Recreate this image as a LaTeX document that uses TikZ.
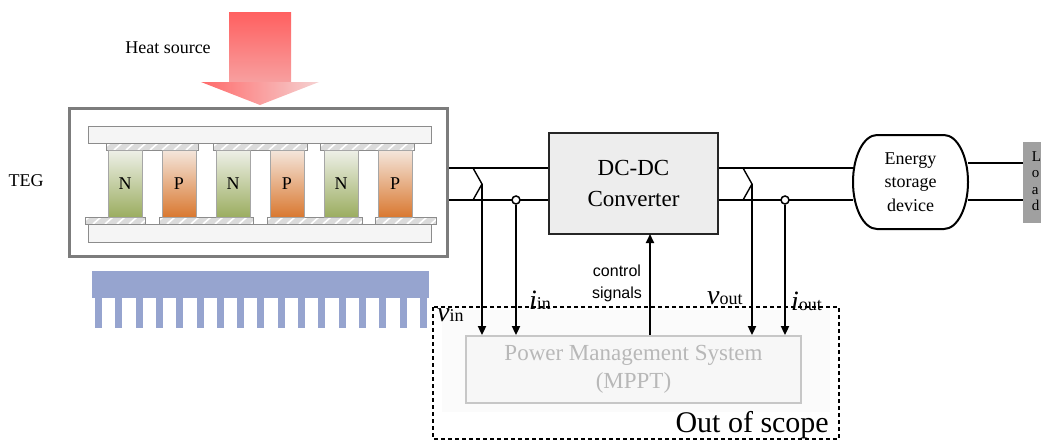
\documentclass[tikz,border=0pt]{standalone}
\usepackage{fontspec}
\setmainfont{Liberation Serif}
\setsansfont{Liberation Sans}
\usetikzlibrary{arrows.meta}
\definecolor{nTop}{HTML}{EEF0E8}
\definecolor{nBot}{HTML}{9BAD60}
\definecolor{pTop}{HTML}{F4E6DC}
\definecolor{pBot}{HTML}{D97830}
\definecolor{sinkC}{HTML}{96A4CF}
\definecolor{heatTop}{HTML}{FF6060}
\definecolor{heatMid}{HTML}{F7A0A0}
\definecolor{heatHeadL}{HTML}{FF6A6A}
\definecolor{heatHeadR}{HTML}{F5D2D2}
\definecolor{tegEdge}{HTML}{7C7C7C}
\definecolor{loadC}{HTML}{A0A0A0}
\begin{document}
\begin{tikzpicture}[x=1pt,y=-1pt,
  wire/.style={line width=1.8pt, black},
  probe/.style={line width=1.8pt, black, -{Triangle[length=9pt,width=8pt]}},
  plate/.style={draw=black!45, fill=black!4, line width=0.8pt},
  strip/.style={draw=black!45, fill=black!14, line width=0.7pt},
  leg/.style={draw=black!35, line width=0.7pt, minimum width=34pt, minimum height=67pt,
    inner sep=0pt, font=\rmfamily\fontsize{18}{20}\selectfont},
  nleg/.style={leg, top color=nTop, bottom color=nBot},
  pleg/.style={leg, top color=pTop, bottom color=pBot},
  lbl/.style={inner sep=0pt, anchor=base west}
]
\useasboundingbox (0,0) rectangle (1041,442);

% heat source arrow: shaft and head
\shade[top color=heatTop, bottom color=heatMid] (229,12) rectangle (291,82.5);
\shade[left color=heatHeadL, right color=heatHeadR]
  (201,82) -- (319,82) -- (260,105) -- cycle;
\node[font=\rmfamily\fontsize{18}{20}\selectfont] (heatlbl) at (168,48) {Heat source};

% TEG module
\node[draw=tegEdge, line width=3.5pt, fill=white, minimum width=378pt, minimum height=148pt,
  inner sep=0pt] (teg) at (258.5,182.5) {};
\node[font=\rmfamily\fontsize{18}{20}\selectfont] (teglbl) at (26,181) {TEG};
\draw[plate] (88,126) rectangle (431,143);
\draw[plate] (88,224) rectangle (431,242);
% hatched conductor strips
\foreach \a/\b/\t in {106/198/143, 213/307/143, 320/414/143, 85/145/217, 159/253/217, 267/362/217, 375/436/217}{
  \draw[strip] (\a,\t) rectangle (\b,\t+7);
  \begin{scope}
    \clip (\a,\t) rectangle (\b,\t+7);
    \foreach \k in {0,12,...,120}{
      \draw[white, line width=1.6pt] (\a+\k-4,\t+7) -- (\a+\k+4,\t);
    }
  \end{scope}
  \draw[draw=black!45, line width=0.7pt] (\a,\t) rectangle (\b,\t+7);
}
\node[nleg] (n1) at (125,183.5) {N};
\node[pleg] (p1) at (179,183.5) {P};
\node[nleg] (n2) at (233,183.5) {N};
\node[pleg] (p2) at (287,183.5) {P};
\node[nleg] (n3) at (341,183.5) {N};
\node[pleg] (p3) at (395,183.5) {P};

% heat sink
\fill[sinkC] (92,271) rectangle (429,298);
\foreach \i in {0,...,16}{
  \fill[sinkC] (95+20.3*\i,297) rectangle (102+20.3*\i,328);
}

% out-of-scope region
\fill[black!1.5] (442,310) rectangle (830,412);
\draw[dashed, dash pattern=on 4pt off 3pt, line width=1.3pt] (433,307) rectangle (839,439);
\node[anchor=base east, inner sep=0pt, font=\rmfamily\fontsize{30}{32}\selectfont] (oos) at (829,432) {Out of scope};

% power management system
\node[draw=black!22, line width=1.8pt, fill=black!3, minimum width=335pt, minimum height=67pt,
  align=center, text=black!28, font=\rmfamily\fontsize{23}{28}\selectfont] (pms) at (633.5,369.5)
  {Power Management System\\(MPPT)};

% converter, storage, load
\node[draw=black!85, line width=1.8pt, fill=black!7, minimum width=169pt, minimum height=101pt,
  align=center, font=\rmfamily\fontsize{23}{31}\selectfont] (dc) at (633.5,183.5) {DC-DC\\Converter};
\node[minimum width=115pt, minimum height=94pt, inner sep=0pt] (esd) at (910.5,182) {};
\draw[line width=2pt, fill=white] (877,135) -- (944,135)
  arc[start angle=-90, end angle=90, x radius=24, y radius=47] -- (877,229)
  arc[start angle=90, end angle=270, x radius=24, y radius=47] -- cycle;
\node[align=center, font=\rmfamily\fontsize{18}{23.5}\selectfont] (esdtxt) at (esd.center)
  {Energy\\storage\\device};
\node[fill=loadC, minimum width=30pt, minimum height=81pt, inner sep=0pt] (load) at (1038,182.5) {};
\node[align=left, inner sep=0pt, font=\rmfamily\fontsize{15}{16.5}\selectfont] (loadtxt) at (1036.5,181)
  {L\\o\\a\\d};

% power path
\draw[wire] (teg.east |- 0,168) -- (dc.west |- 0,168);
\draw[wire] (teg.east |- 0,200) -- (dc.west |- 0,200);
\draw[wire] (dc.east |- 0,168) -- (esd.west |- 0,168);
\draw[wire] (dc.east |- 0,200) -- (esd.west |- 0,200);
\draw[wire] (esd.east |- 0,163) -- (load.west |- 0,163);
\draw[wire] (esd.east |- 0,200) -- (load.west |- 0,200);

% voltage taps
\coordinate (vinA) at (473,168);
\coordinate (vinK) at (482,184);
\coordinate (vinB) at (473,200);
\draw[line width=1.4pt] (vinA) -- (vinK) -- (vinB);
\coordinate (voutA) at (743,168);
\coordinate (voutK) at (752,184);
\coordinate (voutB) at (743,200);
\draw[line width=1.4pt] (voutA) -- (voutK) -- (voutB);
\draw[probe] (vinK) -- (vinK |- pms.north);
\draw[probe] (voutK) -- (voutK |- pms.north);

% current taps
\node[circle, draw, line width=1.5pt, fill=white, inner sep=0pt, minimum size=8pt] (iinC) at (516,200) {};
\node[circle, draw, line width=1.5pt, fill=white, inner sep=0pt, minimum size=8pt] (ioutC) at (785,200) {};
\draw[probe] (iinC.south) -- (iinC |- pms.north);
\draw[probe] (ioutC.south) -- (ioutC |- pms.north);

% control signals
\coordinate (ctlTop) at (650,234);
\draw[probe] (ctlTop |- pms.north) -- (ctlTop);
\node[align=center, font=\sffamily\fontsize{16}{22}\selectfont] (ctl) at (617,283) {control\\signals};

% measurement labels
\node[lbl] (vinL) at (437,321) {\rmfamily\fontsize{28}{30}\selectfont\itshape v\fontsize{18}{20}\selectfont\upshape in};
\node[lbl] (iinL) at (529,309) {\rmfamily\fontsize{28}{30}\selectfont\itshape i\fontsize{18}{20}\selectfont\upshape in};
\node[lbl] (voutL) at (707,304) {\rmfamily\fontsize{28}{30}\selectfont\itshape v\fontsize{18}{20}\selectfont\upshape out};
\node[lbl] (ioutL) at (791,310) {\rmfamily\fontsize{28}{30}\selectfont\itshape i\fontsize{18}{20}\selectfont\upshape out};
\end{tikzpicture}
\end{document}
